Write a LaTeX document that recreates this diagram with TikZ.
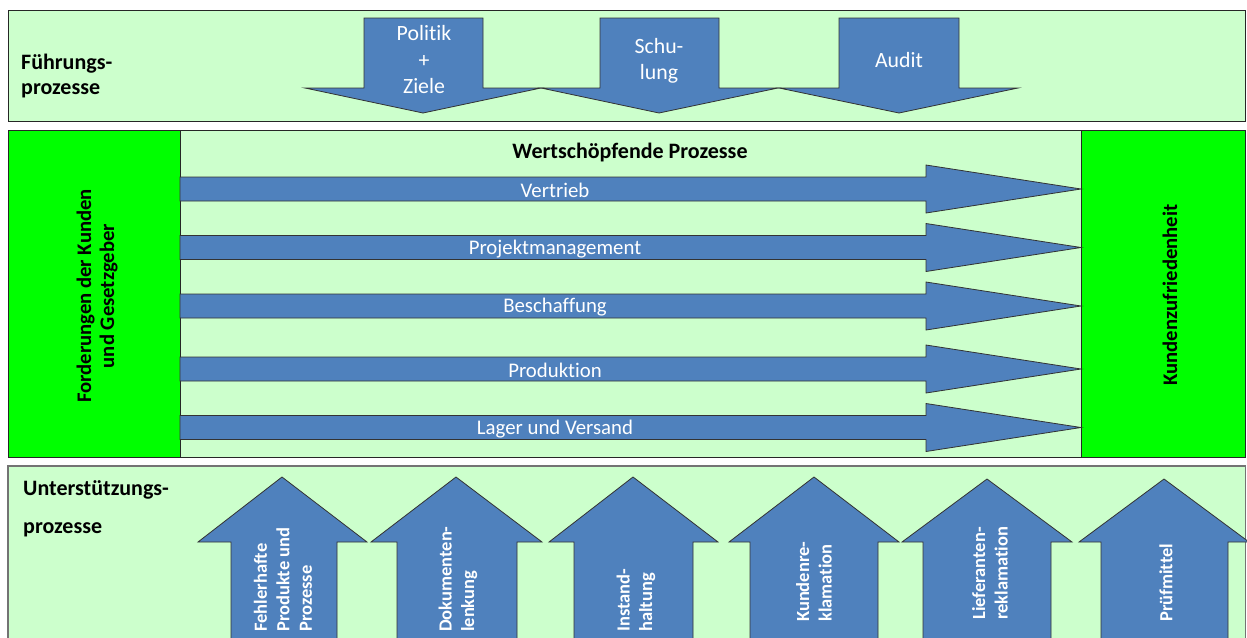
\documentclass[tikz,border=0pt]{standalone}
\usepackage{fontspec}
\setmainfont{Carlito}[Ligatures=NoCommon]
\definecolor{panelgreen}{HTML}{CCFFCC}
\definecolor{boxgreen}{HTML}{00FF00}
\definecolor{arrowblue}{HTML}{4F81BD}
\begin{document}
\begin{tikzpicture}[x=1pt,y=-1pt,
  panel/.style={fill=panelgreen, draw=black!85, line width=0.9pt},
  greenbox/.style={fill=boxgreen, draw=black!85, line width=0.9pt},
  blueshape/.style={fill=arrowblue, draw=black!80, line width=0.8pt, line join=miter},
  headlabel/.style={inner sep=0pt, font=\fontsize{22}{25}\selectfont\bfseries, align=left, text=black},
  arrowtext/.style={inner sep=0pt, font=\fontsize{21.8}{26.5}\selectfont, align=center, text=white},
  proctext/.style={inner sep=0pt, font=\fontsize{20.8}{24}\selectfont, text=white},
  sidetext/.style={inner sep=0pt, font=\fontsize{20.7}{23}\selectfont\bfseries, align=center, rotate=90, text=black},
  uptext/.style={inner sep=0pt, font=\fontsize{18.5}{22.5}\selectfont\bfseries, align=left, rotate=90, anchor=west, text=white}]
\useasboundingbox (0,0) rectangle (1247,637);
\clip (0,0) rectangle (1247,637);
\fill[white] (0,0) rectangle (1247,637);

% ---------- top panel ----------
\draw[panel] (8,10) rectangle (1245.5,121);
\node[headlabel, anchor=west] (fuehr) at (21,76) {Führungs-\\prozesse};

\draw[blueshape] (364,18) -- (483,18) -- (483,88) -- (541,88) -- (423,113) -- (305,88) -- (364,88) -- cycle;
\node[arrowtext] (politik) at (424,60) {Politik\\+\\Ziele};
\draw[blueshape] (600,18) -- (719,18) -- (719,88) -- (778,88) -- (659,113) -- (541,88) -- (600,88) -- cycle;
\node[arrowtext] (schulung) at (659,61) {Schu-\\lung};
\draw[blueshape] (839,18) -- (959,18) -- (959,88) -- (1018,88) -- (899,113) -- (779,88) -- (839,88) -- cycle;
\node[arrowtext] (audit) at (899,60) {Audit};

% ---------- middle panel ----------
\draw[panel] (8,130) rectangle (1245.5,457);
\draw[greenbox] (8,130) rectangle (180,457);
\draw[greenbox] (1081,130) rectangle (1245.5,457);
\node[sidetext] (ford) at (97,296) {Forderungen der Kunden\\und Gesetzgeber};
\node[sidetext] (kz) at (1170,295) {Kundenzufriedenheit};
\node[inner sep=0pt, font=\fontsize{22}{24}\selectfont\bfseries] (wp) at (630,153) {Wertschöpfende Prozesse};

\foreach \yc/\nm/\txt in {189/vertrieb/Vertrieb, 247.5/projekt/Projektmanagement, 306/beschaffung/Beschaffung, 369/produktion/Produktion, 427.5/lager/Lager und Versand}{
  \draw[blueshape] (180,\yc-12) -- (926,\yc-12) -- (926,\yc-24) -- (1081,\yc) -- (926,\yc+24) -- (926,\yc+12) -- (180,\yc+12) -- cycle;
  \node[proctext] (\nm) at (555,\yc+1.5) {\txt};
}

% ---------- bottom panel ----------
\draw[panel, draw=black!55, line width=1.5pt] (8,466) rectangle (1245.5,660);
\node[inner sep=0pt, font=\fontsize{22}{38}\selectfont\bfseries, align=left, anchor=west] (unter) at (23,509) {Unterstützungs-\\prozesse};

\foreach \tx/\hl/\hr/\sl/\sr/\ty in {282/198/367/231/337/477, 456/371/542/397/517/477, 633/549/718/574/693/477, 814/729/899/750/878/477, 987/902/1072/923/1051/479, 1164/1079/1249/1101/1228/479}{
  \draw[blueshape] (\sl,645) -- (\sl,542) -- (\hl,542) -- (\tx,\ty) -- (\hr,542) -- (\sr,542) -- (\sr,645);
}
\node[uptext] (fehler) at (283,632) {Fehlerhafte\\Produkte und\\Prozesse};
\node[uptext] (doku) at (458,632) {Dokumenten-\\lenkung};
\node[uptext] (instand) at (636,632) {Instand-\\haltung};
\node[uptext] (kunde) at (814,622) {Kundenre-\\klamation};
\node[uptext] (liefer) at (990,620) {Lieferanten-\\reklamation};
\node[uptext] (pruef) at (1166,622) {Prüfmittel};
\end{tikzpicture}
\end{document}
